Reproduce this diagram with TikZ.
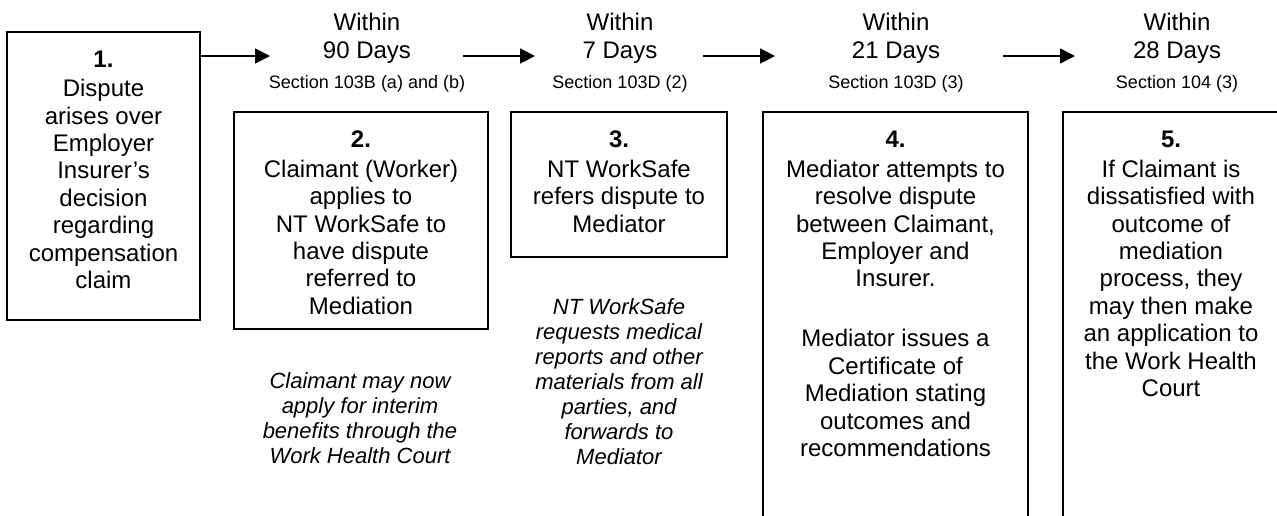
\documentclass[tikz,border=0pt]{standalone}
\usepackage{fontspec}
\setmainfont{Liberation Sans}
\usetikzlibrary{arrows.meta}
\newcommand\tst{\rule{0pt}{10pt}}
\begin{document}
\begin{tikzpicture}[x=0.5pt,y=-0.5pt,
  box/.style={draw, line width=0.85pt, inner sep=0pt, rectangle},
  txt/.style={anchor=north, inner sep=0pt, align=center, font=\fontsize{12}{13.7}\selectfont},
  hdr/.style={anchor=north, inner sep=0pt, align=center, font=\fontsize{12}{14}\selectfont},
  note/.style={anchor=north, inner sep=0pt, align=center, font=\fontsize{11}{12.5}\selectfont\itshape},
  sec/.style={anchor=base, inner sep=0pt, font=\fontsize{9}{11}\selectfont},
  arr/.style={line width=0.9pt, -{Triangle[length=7.5pt,width=7.5pt]}}]
\useasboundingbox (0,0) rectangle (1277,515);
\clip (0,0) rectangle (1277,515);

% boxes
\node[box, minimum width=96.5pt, minimum height=144pt] (b1) at (103.5,176) {};
\node[box, minimum width=127pt, minimum height=108.5pt] (b2) at (361,220.5) {};
\node[box, minimum width=108pt, minimum height=72.5pt] (b3) at (619,184.5) {};
\node[box, minimum width=132.5pt, minimum height=214pt] (b4) at (895.5,326) {};
\node[box, minimum width=108.5pt, minimum height=214pt] (b5) at (1171.5,326) {};

% box texts
\node[txt] (t1) at (103.5,47) {\tst\textbf{1.}\\[0.9pt]Dispute\\arises over\\Employer\\Insurer’s\\decision\\regarding\\compensation\\claim};
\node[txt] (t2) at (361,127) {\tst\textbf{2.}\\[1.2pt]Claimant (Worker)\\applies to\\NT WorkSafe to\\have dispute\\referred to\\Mediation};
\node[txt] (t3) at (619,127) {\tst\textbf{3.}\\[1.2pt]NT WorkSafe\\refers dispute to\\Mediator};
\node[txt] (t4) at (895.5,127) {\tst\textbf{4.}\\[1.2pt]Mediator attempts to\\resolve dispute\\between Claimant,\\Employer and\\Insurer.\\[16.3pt]Mediator issues a\\Certificate of\\Mediation stating\\outcomes and\\recommendations};
\node[txt] (t5) at (1171,127) {\tst\textbf{5.}\\[1.2pt]If Claimant is\\dissatisfied with\\outcome of\\mediation\\process, they\\may then make\\an application to\\the Work Health\\Court};

% headers
\node[hdr] (h2) at (367,10) {\tst Within\\90 Days};
\node[hdr] (h3) at (620,10) {\tst Within\\7 Days};
\node[hdr] (h4) at (896,10) {\tst Within\\21 Days};
\node[hdr] (h5) at (1177,10) {\tst Within\\28 Days};
\node[sec] (s2) at (367,88) {Section 103B (a) and (b)};
\node[sec] (s3) at (620,88) {Section 103D (2)};
\node[sec] (s4) at (896,88) {Section 103D (3)};
\node[sec] (s5) at (1177,88) {Section 104 (3)};

% notes
\node[note] (n2) at (360,368) {\tst Claimant may now\\apply for interim\\benefits through the\\Work Health Court};
\node[note] (n3) at (619,294) {\tst NT WorkSafe\\requests medical\\reports and other\\materials from all\\parties, and\\forwards to\\Mediator};

% arrows
\coordinate (a1e) at (270,56);
\coordinate (a2s) at (463,56);
\coordinate (a2e) at (535,56);
\coordinate (a3s) at (703,56);
\coordinate (a3e) at (775,56);
\coordinate (a4s) at (1003,56);
\coordinate (a4e) at (1075,56);
\draw[arr] (b1.east |- a1e) -- (a1e);
\draw[arr] (a2s) -- (a2e);
\draw[arr] (a3s) -- (a3e);
\draw[arr] (a4s) -- (a4e);
\end{tikzpicture}
\end{document}
